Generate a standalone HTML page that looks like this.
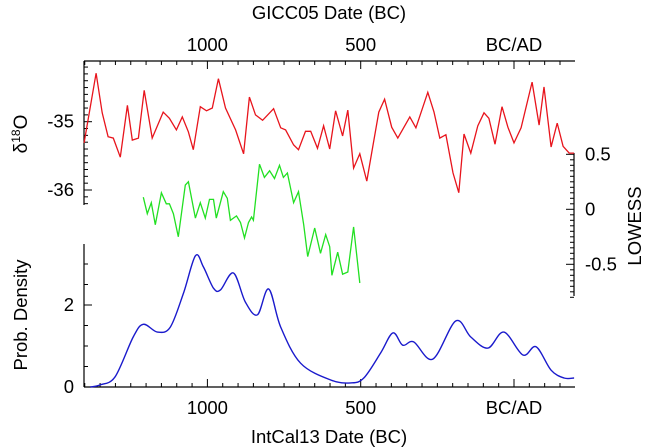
<!DOCTYPE html>
<html><head><meta charset="utf-8"><style>
body{margin:0;background:#fff}
svg{display:block;font-family:"Liberation Sans",Arial,sans-serif}
</style></head><body>
<svg id="c" width="651" height="448" viewBox="0 0 651 448"></svg>
<script>
const redYears=[1402,1363,1343,1324,1307,1284,1261,1245,1225,1206,1180,1144,1124,1101,1082,1062,1046,1023,1003,984,964,941,908,882,863,843,820,784,761,745,719,703,680,663,641,621,601,582,559,542,523,503,480,461,441,422,399,379,340,320,281,261,242,222,199,180,163,141,118,98,82,62,39,20,0,-23,-59,-82,-98,-121,-141,-160,-180,-196];
const redVals=[-35.31,-34.29,-34.87,-35.22,-35.24,-35.52,-34.76,-35.27,-35.24,-34.54,-35.24,-34.86,-34.95,-35.12,-34.93,-35.15,-35.41,-34.78,-34.84,-34.80,-34.37,-34.80,-35.12,-35.47,-34.64,-34.90,-34.98,-34.81,-35.09,-35.12,-35.34,-35.41,-35.14,-35.14,-35.39,-35.06,-35.40,-34.84,-35.21,-34.83,-35.68,-35.47,-35.87,-35.37,-34.86,-34.67,-35.08,-35.24,-34.93,-35.09,-34.57,-34.86,-35.24,-35.19,-35.75,-36.04,-35.18,-35.46,-35.06,-34.87,-34.95,-35.33,-34.78,-35.08,-35.31,-35.09,-34.42,-35.05,-34.49,-35.37,-35.02,-35.36,-35.46,-35.46];
const greenYears=[1209,1196,1183,1170,1150,1134,1124,1111,1095,1072,1062,1039,1023,1007,993,980,971,948,935,925,905,892,879,866,856,850,830,814,797,781,765,752,739,719,703,686,673,650,631,614,601,594,575,559,542,523,503];
const greenVals=[0.11,-0.04,0.06,-0.14,0.15,0.05,0.05,-0.04,-0.25,0.22,0.25,-0.08,0.06,-0.08,0.09,0.09,-0.08,0.16,0.10,-0.10,-0.06,-0.12,-0.26,-0.12,-0.07,-0.10,0.41,0.29,0.35,0.28,0.40,0.29,0.33,0.06,0.16,-0.14,-0.43,-0.17,-0.40,-0.23,-0.34,-0.60,-0.39,-0.59,-0.57,-0.16,-0.67];
const blueYears=[1382,1350,1301,1242,1209,1163,1121,1078,1039,1013,980,957,915,876,837,800,761,696,598,533,490,435,395,363,327,265,190,141,85,33,-29,-72,-121,-163,-196];
const blueVals=[0,0.05,0.25,1.22,1.53,1.34,1.46,2.29,3.2,2.93,2.41,2.37,2.78,2.07,1.76,2.39,1.46,0.58,0.17,0.1,0.22,0.83,1.32,1.02,1.1,0.68,1.61,1.22,0.95,1.34,0.78,0.98,0.41,0.22,0.22];
const xTickVals=[1000,500,0];
const xTickLabels=["1000","500","BC/AD"];
const dTicks=[-35,-36];
const lTicks=[0.5,0,-0.5];
const pTicks=[0,2];

const NS="http://www.w3.org/2000/svg";
const svg=document.getElementById('c');
const FS=18.5;
const X=y=>514-(y)*0.3066;
const Yd=v=>121.7-(v+35)*68.3;
const Yl=v=>209.3-v*110;
const Yp=v=>387-v*41;
function el(t,a,p){const e=document.createElementNS(NS,t);for(const k in a)e.setAttribute(k,a[k]);(p||svg).appendChild(e);return e;}
function txt(s,x,y,anchor,rot){const t=el('text',{x,y,'font-size':FS,'text-anchor':anchor||'middle',fill:'#000'});if(rot)t.setAttribute('transform',`rotate(-90 ${x} ${y})`);t.textContent=s;return t;}

const ta=el('g',{});
el('line',{x1:84,y1:61,x2:575,y2:61,stroke:'#000','stroke-width':1.2},ta);
for(let y=1400;y>=-200;y-=50){const x=X(y);if(x<84||x>575)continue;const maj=y%500===0;el('line',{x1:x,y1:61,x2:x,y2:maj?69:65,stroke:'#000','stroke-width':1},ta);}
xTickVals.forEach((v,i)=>{const t=txt(xTickLabels[i],X(v),51);});
const tt=txt('GICC05 Date (BC)',329,19);

const ba=el('g',{});
el('line',{x1:84,y1:387,x2:575,y2:387,stroke:'#000','stroke-width':1.2},ba);
for(let y=1400;y>=-200;y-=50){const x=X(y);if(x<84||x>575)continue;const maj=y%500===0;el('line',{x1:x,y1:387,x2:x,y2:maj?379:383,stroke:'#000','stroke-width':1},ba);}
xTickVals.forEach((v,i)=>{const t=txt(xTickLabels[i],X(v),414);});
const bt=txt('IntCal13 Date (BC)',329,443);

const da=el('g',{});
el('line',{x1:84,y1:61,x2:84,y2:205,stroke:'#000','stroke-width':1.2},da);
for(let v=-34.2;v>=-36.21;v-=0.1){const y=Yd(v);const maj=Math.abs(v-Math.round(v))<0.01;el('line',{x1:84,y1:y,x2:maj?92:88,y2:y,stroke:'#000','stroke-width':1},da);}
dTicks.forEach(v=>{const t=txt(String(v),74,Yd(v)+6,'end');});
const dt=el('text',{x:27,y:134,'font-size':19,'text-anchor':'middle',transform:'rotate(-90 27 134)'});
dt.innerHTML='δ<tspan font-size="12" dy="-7">18</tspan><tspan dy="7">O</tspan>';


const la=el('g',{});
el('line',{x1:574,y1:153,x2:574,y2:296,stroke:'#000','stroke-width':1.2},la);
for(let i=10;i>=-16;i--){const v=i*0.05;const y=Yl(v);el('line',{x1:574,y1:y,x2:(i%10===0)?566:570,y2:y,stroke:'#000','stroke-width':1},la);}
lTicks.forEach(v=>{const t=txt(String(v),585,Yl(v)+6,'start');});
const lt=txt('LOWESS',641,226,'middle',true);

const pa=el('g',{});
el('line',{x1:84,y1:244,x2:84,y2:387,stroke:'#000','stroke-width':1.2},pa);
for(let v=0;v<=3.4;v+=0.5){const y=Yp(v);const maj=Math.abs(v%2)<0.01;el('line',{x1:84,y1:y,x2:maj?92:88,y2:y,stroke:'#000','stroke-width':1},pa);}
pTicks.forEach(v=>{const t=txt(String(v),74,Yp(v)+6,'end');});
const pt=txt('Prob. Density',27,315,'middle',true);

function poly(xs,ys,fy){return xs.map((y,i)=>X(y).toFixed(1)+','+fy(ys[i]).toFixed(1)).join(' ');}
const red=el('polyline',{points:poly(redYears,redVals,Yd),fill:'none',stroke:'#e8141c','stroke-width':1.3});

const green=el('polyline',{points:poly(greenYears,greenVals,Yl),fill:'none',stroke:'#22e022','stroke-width':1.3});

const bp=blueYears.map((y,i)=>[X(y),Yp(blueVals[i])]);
let d='M'+bp[0][0]+','+bp[0][1];
for(let i=0;i<bp.length-1;i++){const p0=bp[Math.max(0,i-1)],p1=bp[i],p2=bp[i+1],p3=bp[Math.min(bp.length-1,i+2)];
const c1=[p1[0]+(p2[0]-p0[0])/6,p1[1]+(p2[1]-p0[1])/6],c2=[p2[0]-(p3[0]-p1[0])/6,p2[1]-(p3[1]-p1[1])/6];
d+=` C${c1[0].toFixed(1)},${c1[1].toFixed(1)} ${c2[0].toFixed(1)},${c2[1].toFixed(1)} ${p2[0].toFixed(1)},${p2[1].toFixed(1)}`;}
const blue=el('path',{d,fill:'none',stroke:'#1a1acc','stroke-width':1.4});

</script>
</body></html>
